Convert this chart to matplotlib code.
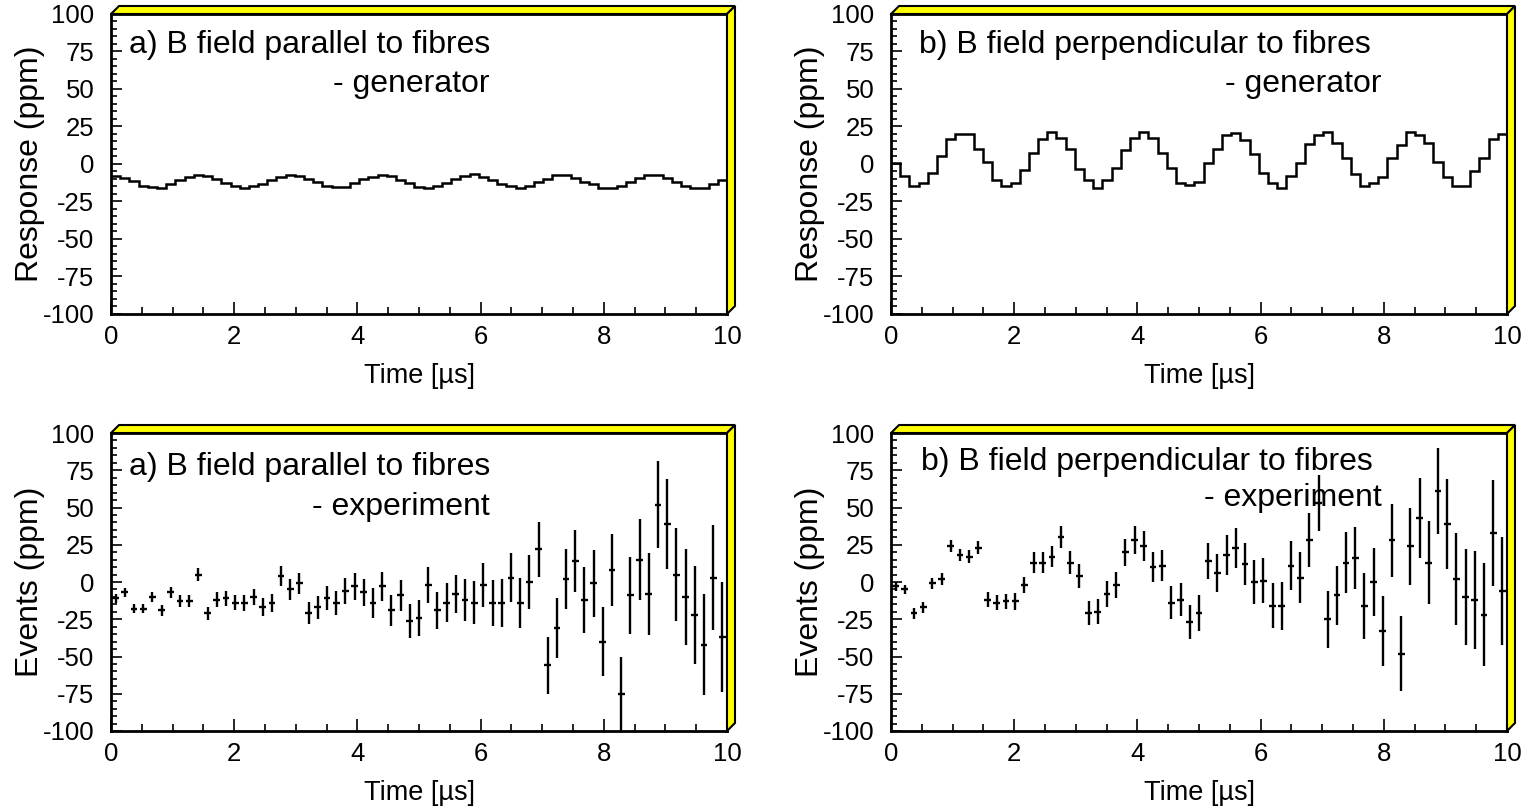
import numpy as np
import matplotlib.pyplot as plt
from matplotlib.patches import Polygon
from matplotlib.ticker import MultipleLocator, FuncFormatter

plt.rcParams['font.family'] = ['Liberation Sans', 'DejaVu Sans']
plt.rcParams['axes.unicode_minus'] = False

# time binning of the histograms (microseconds)
t_max = 10.0
n_bins = 67

# generator response, B parallel to fibres (ppm per bin)
gen_par = [-7.8, -9.5, -11.3, -14.4, -15.5, -16.2, -13.5, -11, -8.7, -7.3,
           -7.8, -9.8, -12.4, -14.4, -16.2, -15, -13.5, -10.7, -8.4, -7.3,
           -7.8, -9.8, -12.2, -15, -15.5, -15.5, -12.9, -10.2, -8.4, -7.3,
           -7.8, -10.7, -12.9, -15.5, -16.2, -15, -12.9, -9.8, -7.8, -6.9,
           -8.4, -11, -13.5, -15, -15.8, -14.4, -12.2, -9.8, -7.3, -7.3,
           -9.1, -12.2, -13.5, -15.8, -16.2, -14.4, -11.8, -9.1, -7.3, -7.3,
           -9.1, -11.8, -15, -15.8, -15.8, -13.5, -11]

# generator response, B perpendicular to fibres
gen_perp = [0.5, -8, -15, -12.5, -6, 5, 16.5, 20, 20, 10,
            1, -11, -14.5, -13, -4, 7, 16.5, 21.5, 17.5, 10,
            -3.5, -10.5, -16, -10.5, -3, 9.5, 17.5, 21, 17, 7,
            -2.5, -13, -14, -12, 0.5, 10, 19, 20.5, 16, 6.5,
            -6, -12.5, -16, -8, 0.5, 13, 19, 21, 14, 4,
            -7, -15, -13, -9, 4, 12.5, 21, 19, 14, 1.5,
            -9, -14.5, -14.5, -5, 4, 16.5, 20]

# measured events, B parallel to fibres, with errors
exp_par = [-11, -7, -18, -18, -10, -19, -7, -13, -13, 5,
           -21, -12, -11, -14, -14, -10, -17, -14, 4, -5,
           -1, -21, -17, -11, -14, -6, -3, -7, -14, -3,
           -19, -9, -26, -24, -2, -19, -14, -8, -12, -14,
           -2, -14, -14, 3, -14, 0, 22, -56, -31, 2,
           14, -12, -1, -40, 8, -75, -9, 15, -8, 52,
           39, 5, -10, -22, -42, 3, -37]
err_par = [3, 3, 3, 3, 3.5, 3.5, 3.5, 4, 4, 4.5,
           4.5, 5, 5, 5, 5.5, 5.5, 6, 6, 6.5, 7,
           7, 7.5, 7.5, 8, 8, 8.5, 9, 9, 10, 10,
           10.5, 10.5, 11.5, 12, 12, 12.5, 13, 13, 14, 14.5,
           15, 15.5, 16, 16.5, 17, 18, 18.5, 19, 20, 20,
           21, 22, 22.5, 23, 24, 25, 26, 27, 27.5, 29,
           30, 31, 32, 33, 34, 35.5, 37]

# measured events, B perpendicular to fibres, with errors
exp_perp = [-3, -5, -21, -17, -1, 2, 24, 18, 17, 23,
            -12, -14, -13, -13, -2, 13, 13, 17, 30, 13,
            4, -21, -20, -8, -2, 20, 28, 24, 10, 11,
            -14, -12, -27, -21, 14, 6, 18, 23, 12, 0,
            1, -16, -16, 11, 3, 28, 53, -25, -9, 13,
            16, -16, 0, -33, 28, -48, 24, 43, 13, 61,
            39, 2, -10, -12, -22, 33, -6]
err_perp = [3, 3, 3.5, 3.5, 3.5, 4, 4, 4, 4.5, 4.5,
            5, 5, 5, 5.5, 5.5, 7, 7, 7, 7.5, 7.5,
            8, 8, 8.5, 8.5, 9, 9, 9.5, 10, 10, 10.5,
            11, 11, 11.5, 12, 12, 13, 13.5, 13.5, 14, 14.5,
            15, 15, 16, 16.5, 17, 18, 18.5, 19, 20, 20.5,
            21, 22, 23, 23.5, 24.5, 25, 26, 27, 28, 29,
            30, 31, 32, 33, 34.5, 35.5, 36.5]

edges = np.linspace(0, t_max, n_bins + 1)
centres = 0.5 * (edges[:-1] + edges[1:])

W, H = 1525, 811
fig = plt.figure(figsize=(W / 100, H / 100), dpi=100)


def frame_3d(ax, d=8):
    # yellow bevel on the top and right of the frame
    p = ax.get_position()
    dx, dy = d / W, d / H
    x0, y0, x1, y1 = p.x0, p.y0, p.x1, p.y1
    top = [(x0, y1), (x0 + dx, y1 + dy), (x1 + dx, y1 + dy), (x1, y1)]
    right = [(x1, y0), (x1 + dx, y0 + dy), (x1 + dx, y1 + dy), (x1, y1)]
    for pts in (top, right):
        fig.add_artist(Polygon(pts, closed=True, transform=fig.transFigure,
                               facecolor='#ffff00', edgecolor='black',
                               lw=1.5, clip_on=False))


def make_panel(left, top, right, bottom, ylabel):
    ax = fig.add_axes([left / W, 1 - bottom / H, (right - left) / W, (bottom - top) / H])
    ax.set_xlim(0, t_max)
    ax.set_ylim(-100, 100)
    ax.xaxis.set_major_locator(MultipleLocator(2))
    ax.xaxis.set_minor_locator(MultipleLocator(0.5))
    ax.yaxis.set_major_locator(MultipleLocator(25))
    ax.yaxis.set_minor_locator(MultipleLocator(5))
    ax.yaxis.set_major_formatter(FuncFormatter(lambda v, pos: '%d' % v))
    ax.tick_params(which='both', direction='in', top=False, right=False,
                   width=1.2, labelsize=18.5)
    ax.tick_params(axis='x', which='major', length=9, pad=8)
    ax.tick_params(axis='x', which='minor', length=5)
    ax.tick_params(axis='y', which='major', length=8, pad=12)
    ax.tick_params(axis='y', which='minor', length=4)
    for s in ax.spines.values():
        s.set_linewidth(2)
    ax.set_xlabel('Time [µs]', fontsize=19.5, labelpad=10)
    ax.set_ylabel(ylabel, fontsize=23, labelpad=-2)
    frame_3d(ax)
    return ax


ax1 = make_panel(111, 14, 727, 314, 'Response (ppm)')
ax2 = make_panel(891, 14, 1507, 314, 'Response (ppm)')
ax3 = make_panel(111, 433, 727, 731, 'Events (ppm)')
ax4 = make_panel(891, 433, 1507, 731, 'Events (ppm)')

ax1.stairs(gen_par, edges, baseline=None, color='black', lw=1.8)
ax2.stairs(gen_perp, edges, baseline=None, color='black', lw=1.8)

xerr = 0.055
ax3.errorbar(centres, exp_par, yerr=err_par, xerr=xerr, fmt='none',
             ecolor='black', elinewidth=1.7, capsize=0)
ax4.errorbar(centres, exp_perp, yerr=err_perp, xerr=xerr, fmt='none',
             ecolor='black', elinewidth=1.7, capsize=0)

fs = 23
ax1.text(0.3, 74, 'a) B field parallel to fibres', fontsize=fs, va='baseline')
ax1.text(6.15, 48, '- generator', fontsize=fs, va='baseline', ha='right')
ax2.text(0.46, 74, 'b) B field perpendicular to fibres', fontsize=fs, va='baseline')
ax2.text(7.96, 48, '- generator', fontsize=fs, va='baseline', ha='right')
ax3.text(0.3, 72, 'a) B field parallel to fibres', fontsize=fs, va='baseline')
ax3.text(6.15, 45, '- experiment', fontsize=fs, va='baseline', ha='right')
ax4.text(0.48, 75, 'b) B field perpendicular to fibres', fontsize=fs, va='baseline')
ax4.text(7.96, 51, '- experiment', fontsize=fs, va='baseline', ha='right')

fig.savefig('out.png', dpi=100)
